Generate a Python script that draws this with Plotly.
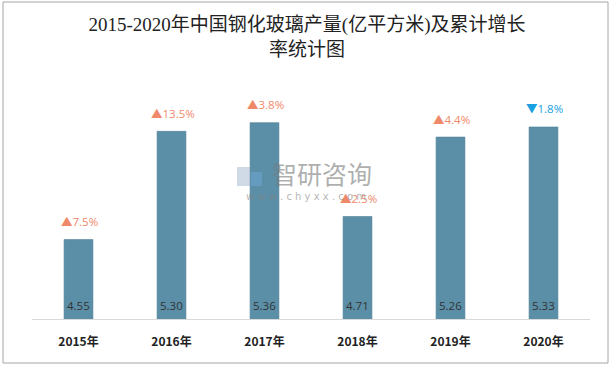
import plotly.graph_objects as go

years = ["2015年", "2016年", "2017年", "2018年", "2019年", "2020年"]
output = [4.55, 5.30, 5.36, 4.71, 5.26, 5.33]
growth = [7.5, 13.5, 3.8, 2.5, 4.4, -1.8]
y_min, y_max = 4.0, 5.6

W, H = 614, 368
L, R, T, B = 32, 24, 88, 49
pw, ph = W - L - R, H - T - B

def px(x):
    return (x - L) / pw

def py(y):
    return (H - B - y) / ph

fig = go.Figure()
fig.add_trace(go.Bar(
    x=years, y=output,
    marker=dict(color="#5B8FA8", line=dict(color="#4f7f96", width=0.6)),
    width=0.31,
    hoverinfo="skip",
))

lab_font = dict(size=11.5, color="#333333", family="Open Sans, Noto Sans CJK SC")
for yr, v, g in zip(years, output, growth):
    up = g >= 0
    fig.add_annotation(
        x=yr, y=v, yref="y", xref="x",
        text=("▲" if up else "▼") + f"{abs(g):.1f}%",
        showarrow=False, yshift=18, xanchor="center", xshift=1,
        font=dict(size=11.5, color="#F0896A" if up else "#1A9FE0",
                  family="Open Sans, Noto Sans CJK SC"),
    )
    fig.add_annotation(
        x=yr, y=y_min, yref="y", xref="x", text=f"{v:.2f}",
        showarrow=False, yanchor="bottom", yshift=4, font=lab_font,
    )

# watermark
fig.add_annotation(xref="paper", yref="paper", x=px(322), y=py(173),
                   text="智研咨询", showarrow=False,
                   font=dict(size=25, color="rgba(120,120,120,0.6)", family="Noto Sans CJK SC"))
fig.add_annotation(xref="paper", yref="paper", x=px(306), y=py(196),
                   text="w w w . c h y x x . c o m", showarrow=False,
                   font=dict(size=10, color="rgba(130,130,130,0.6)", family="DejaVu Sans"))
fig.add_shape(type="rect", xref="paper", yref="paper",
              x0=px(237), x1=px(250), y0=py(167), y1=py(186),
              fillcolor="rgba(150,170,200,0.45)", line=dict(width=0))
fig.add_shape(type="rect", xref="paper", yref="paper",
              x0=px(251), x1=px(262), y0=py(172), y1=py(186),
              fillcolor="rgba(110,170,220,0.45)", line=dict(width=0))

# outer border
fig.add_shape(type="rect", xref="paper", yref="paper",
              x0=px(3), x1=px(608), y0=py(2), y1=py(363),
              line=dict(color="#A6A6A6", width=1), fillcolor="rgba(0,0,0,0)")

fig.update_layout(
    width=W, height=H,
    margin=dict(l=L, r=R, t=T, b=B),
    paper_bgcolor="white", plot_bgcolor="white",
    showlegend=False,
    title=dict(
        text="2015-2020年中国钢化玻璃产量(亿平方米)及累计增长<br>率统计图",
        x=0.5, xanchor="center", y=1 - 31 / H, yanchor="middle",
        font=dict(size=19, color="#222222", family="Liberation Serif, Noto Sans CJK SC"),
    ),
    xaxis=dict(
        showline=True, linecolor="#D9D9D9", linewidth=1,
        tickfont=dict(size=12, color="#222222", family="Noto Sans CJK SC"),
        ticks="", showgrid=False, ticklabelstandoff=12,
        tickprefix="<b>", ticksuffix="</b>",
    ),
    yaxis=dict(range=[y_min, y_max], visible=False, showgrid=False),
)

fig.write_html("out.html", config={"displayModeBar": False},
               post_script="document.body.style.margin='0';")
